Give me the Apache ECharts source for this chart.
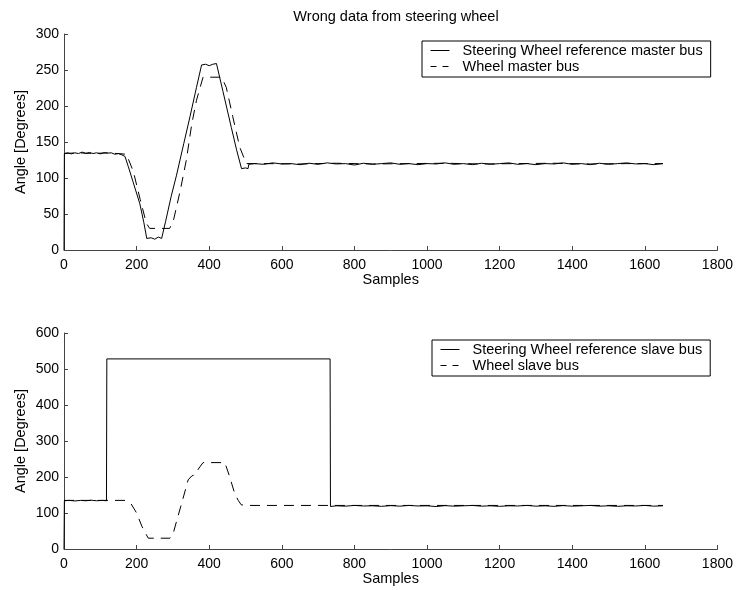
<!DOCTYPE html>
<html>
<head>
<meta charset="utf-8">
<script src="https://cdn.jsdelivr.net/npm/echarts@6/dist/echarts.min.js"></script>
<style>
  html, body { margin: 0; padding: 0; background: #fff; }
  #chart { width: 736px; height: 590px; }
</style>
</head>
<body>
<div id="chart"></div>
<script>
// top plot, master bus : [sample, angle]
const masterRef = [
  [0, 0], [1, 134], [10, 135], [20, 133.5], [30, 135], [40, 134], [50, 136], [60, 134],
  [70, 135.5], [80, 134], [90, 135], [100, 133.5], [110, 135], [120, 134.5], [130, 135],
  [140, 133], [150, 134], [160, 132], [168, 130],
  [177, 116], [190, 95], [209, 64], [220, 38], [228, 16],
  [240, 17], [250, 15], [260, 18], [269, 16],
  [280, 40], [295, 74], [310, 104], [330, 148], [347, 185], [365, 226], [379, 257],
  [390, 258], [400, 256], [410, 258], [420, 259],
  [438, 220], [461, 170], [475, 140], [489, 113], [500, 114], [507, 113], [509, 119]
]
const masterRefTail = [
  [525, 120], [550, 119], [575, 121], [600, 119.5], [625, 120], [650, 118.5], [675, 120.5],
  [700, 119], [725, 121], [750, 119.5], [775, 120], [800, 118], [825, 120.5], [850, 119],
  [875, 120], [900, 121], [925, 119], [950, 120], [975, 118.5], [1000, 120], [1025, 119.5],
  [1050, 121], [1075, 119], [1100, 120], [1125, 118.5], [1150, 120.5], [1175, 119],
  [1200, 120], [1225, 121], [1250, 119], [1275, 120], [1300, 118.5], [1325, 120],
  [1350, 119.5], [1375, 121], [1400, 119], [1425, 120], [1450, 118.5], [1475, 120.5],
  [1500, 119], [1525, 120], [1550, 121], [1575, 119.5], [1600, 120], [1625, 118.5], [1650, 120]
]
const masterWheel = [
  [0, 134], [40, 135], [80, 134], [120, 135], [172, 133],
  [191, 109], [210, 70], [227, 37], [236, 30], [291, 30],
  [301, 40], [320, 82], [337, 125], [352, 175], [365, 208], [383, 240], [434, 240],
  [447, 226], [465, 185], [484, 143], [502, 120],
  [550, 120], [650, 119.5], [750, 120.5], [850, 119.5], [950, 120], [1050, 120.5],
  [1150, 119.5], [1250, 120], [1350, 120.5], [1450, 119.5], [1550, 120], [1650, 120]
]

// bottom plot, slave bus
const slaveRef = [
  [0, 0], [1, 134], [15, 135], [30, 133.5], [45, 135], [60, 134], [75, 135.5], [90, 134],
  [105, 135], [117, 134], [118, 528], [733, 528], [734, 118]
]
const slaveRefTail = [
  [750, 120], [775, 119], [800, 121], [825, 119.5], [850, 120], [875, 118.5], [900, 120.5],
  [925, 119], [950, 121], [975, 119.5], [1000, 120], [1025, 118], [1050, 120.5], [1075, 119],
  [1100, 120], [1125, 121], [1150, 119], [1175, 120], [1200, 118.5], [1225, 120], [1250, 119.5],
  [1275, 121], [1300, 119], [1325, 120], [1350, 118.5], [1375, 120.5], [1400, 119],
  [1425, 120], [1450, 121], [1475, 119], [1500, 120], [1525, 118.5], [1550, 120],
  [1575, 119.5], [1600, 121], [1625, 119], [1650, 120]
]
const slaveWheel = [
  [0, 135], [168, 135], [185, 125], [200, 100], [215, 62], [232, 30], [292, 30],
  [300, 40], [310, 77], [325, 130], [342, 192], [352, 203], [360, 206], [372, 225],
  [383, 240], [443, 240], [455, 205], [470, 155], [480, 135], [488, 123], [500, 121],
  [1650, 121]
]

const topTicks = { min: 0, max: 300, interval: 50 }
const bottomTicks = { min: 0, max: 600, interval: 100 }
const sampleTicks = { min: 0, max: 1800, interval: 200 }

const FONT = "'Liberation Sans', Arial, Helvetica, sans-serif"
const AXIS_COLOR = '#444'
const DASH = [10, 7]

function xAxisFor (gridIndex) {
  return {
    type: 'value',
    gridIndex,
    min: sampleTicks.min,
    max: sampleTicks.max,
    interval: sampleTicks.interval,
    name: 'Samples',
    nameLocation: 'middle',
    nameGap: 22,
    nameMoveOverlap: false,
    nameTextStyle: { color: '#000', fontSize: 14.5, fontFamily: FONT },
    axisLine: { show: true, lineStyle: { color: AXIS_COLOR, width: 1 } },
    axisTick: { show: true, inside: true, length: 4, lineStyle: { color: AXIS_COLOR } },
    axisLabel: { color: '#000', fontSize: 14, fontFamily: FONT, margin: 8, formatter: v => String(v) },
    splitLine: { show: false }
  }
}

function yAxisFor (gridIndex, ticks) {
  return {
    type: 'value',
    gridIndex,
    min: ticks.min,
    max: ticks.max,
    interval: ticks.interval,
    name: 'Angle [Degrees]',
    nameLocation: 'middle',
    nameGap: 36,
    nameMoveOverlap: false,
    nameTextStyle: { color: '#000', fontSize: 14.5, fontFamily: FONT },
    axisLine: { show: true, lineStyle: { color: AXIS_COLOR, width: 1 } },
    axisTick: { show: true, inside: true, length: 4, lineStyle: { color: AXIS_COLOR } },
    axisLabel: { color: '#000', fontSize: 14, fontFamily: FONT, margin: 5, formatter: v => String(v) },
    splitLine: { show: false }
  }
}

function lineSeries (name, data, idx, dashed) {
  return {
    name,
    type: 'line',
    xAxisIndex: idx,
    yAxisIndex: idx,
    data,
    symbol: 'none',
    lineStyle: { color: '#000', width: 1, type: dashed ? DASH : 'solid' },
    itemStyle: { color: '#000' },
    emphasis: { disabled: true }
  }
}

// legend: solid name first, dashed name second
function legendFor (left, top, solidName, dashedName) {
  return {
    orient: 'vertical',
    left,
    top,
    itemWidth: 19,
    itemHeight: 10,
    itemGap: 1,
    padding: [2, 8, 3, 8],
    borderColor: '#000',
    borderWidth: 1,
    backgroundColor: '#fff',
    selectedMode: false,
    itemStyle: { color: 'rgba(0,0,0,0)', borderWidth: 0, opacity: 0 },
    lineStyle: { width: 1, color: '#000' },
    textStyle: { color: '#000', fontSize: 14.5, fontFamily: FONT, lineHeight: 15, padding: [0, 0, 0, 8] },
    data: [
      { name: solidName },
      { name: dashedName, lineStyle: { type: [6, 6] } }
    ]
  }
}

const chart = echarts.init(document.getElementById('chart'))
chart.setOption({
  animation: false,
  backgroundColor: '#fff',
  title: {
    text: 'Wrong data from steering wheel',
    left: 391,
    top: 4,
    textAlign: 'center',
    textStyle: { color: '#000', fontSize: 14.5, fontWeight: 'normal', fontFamily: FONT }
  },
  grid: [
    { left: 64, top: 34, width: 655, height: 216 },
    { left: 64, top: 333, width: 655, height: 216 }
  ],
  xAxis: [xAxisFor(0), xAxisFor(1)],
  yAxis: [yAxisFor(0, topTicks), yAxisFor(1, bottomTicks)],
  legend: [
    legendFor(422, 41, 'Steering Wheel reference master bus', 'Wheel master bus'),
    legendFor(432, 340, 'Steering Wheel reference slave bus', 'Wheel slave bus')
  ],
  series: [
    lineSeries('Wheel master bus', masterWheel, 0, true),
    lineSeries('Steering Wheel reference master bus', masterRef.concat(masterRefTail), 0, false),
    lineSeries('Wheel slave bus', slaveWheel, 1, true),
    lineSeries('Steering Wheel reference slave bus', slaveRef.concat(slaveRefTail), 1, false)
  ]
})
</script>
</body>
</html>
